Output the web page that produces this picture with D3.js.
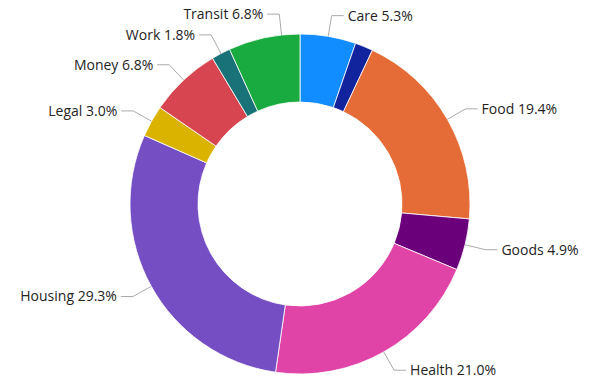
<!DOCTYPE html>
<html>
<head>
<meta charset="utf-8">
<script src="https://cdn.jsdelivr.net/npm/d3@7"></script>
<style>
  body { margin: 0; background: #fff; }
  .lbl { font-family: "Segoe UI", "Open Sans", sans-serif; font-size: 14px; fill: #252423; }
  .leader { fill: none; stroke: #aaaaaa; stroke-width: 1; }
</style>
</head>
<body>
<div id="chart"></div>
<script>
// slices, clockwise from 12 o'clock
var categories = ["Care", "Other", "Food", "Goods", "Health", "Housing", "Legal", "Money", "Work", "Transit"];
var shares = [5.3, 1.7, 19.4, 4.9, 21.0, 29.3, 3.0, 6.8, 1.8, 6.8];
var colors = ["#118DFF", "#12239E", "#E66C37", "#6B007B", "#E044A7", "#744EC2", "#D9B300", "#D64550", "#197278", "#1AAB40"];
// which slices get a label (the small dark one has none)
var showLabel = [true, false, true, true, true, true, true, true, true, true];

var width = 597, height = 383;
var cx = 300, cy = 204;
var outerR = 170, innerR = 102;

var data = categories.map(function(c, i) {
  return { name: c, value: shares[i], color: colors[i], label: showLabel[i] };
});

var svg = d3.select("#chart").append("svg")
  .attr("width", width)
  .attr("height", height);

var g = svg.append("g")
  .attr("transform", "translate(" + cx + "," + cy + ")");

var pie = d3.pie()
  .value(function(d) { return d.value; })
  .sort(null);

var arc = d3.arc()
  .innerRadius(innerR)
  .outerRadius(outerR);

var arcs = pie(data);

g.selectAll(".slice")
  .data(arcs)
  .enter().append("path")
  .attr("class", "slice")
  .attr("d", arc)
  .attr("fill", function(d) { return d.data.color; })
  .attr("stroke", "#fff")
  .attr("stroke-width", 0.8);

// leader lines + labels
var nudge = { "Transit": 0.105 }; // pushed off its neighbour, like the original

function pt(a, r) {
  return [Math.sin(a) * r, -Math.cos(a) * r];
}

var labelled = arcs.filter(function(d) { return d.data.label; });

labelled.forEach(function(d) {
  var a = (d.startAngle + d.endAngle) / 2 + (nudge[d.data.name] || 0);
  var right = Math.sin(a) >= 0;
  var p0 = pt(a, outerR);
  var p1 = pt(a, outerR + 21);
  var p2 = [p1[0] + (right ? 12 : -12), p1[1]];

  g.append("polyline")
    .attr("class", "leader")
    .attr("points", [p0, p1, p2].map(function(p) { return p.join(","); }).join(" "));

  g.append("text")
    .attr("class", "lbl")
    .attr("x", p2[0] + (right ? 4 : -4))
    .attr("y", p2[1])
    .attr("dy", "0.35em")
    .attr("text-anchor", right ? "start" : "end")
    .text(d.data.name + " " + d.data.value.toFixed(1) + "%");
});
</script>
</body>
</html>
